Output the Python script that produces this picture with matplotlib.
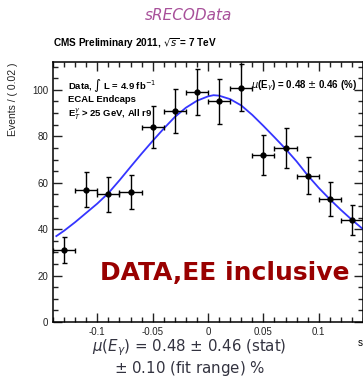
import numpy as np
import matplotlib
matplotlib.use('Agg')
import matplotlib.pyplot as plt
from matplotlib.ticker import MultipleLocator

plt.rcParams['font.family'] = ['Liberation Sans', 'DejaVu Sans']
plt.rcParams['mathtext.fontset'] = 'dejavusans'

# binned data (bin width 0.02)
bin_x = [-0.13, -0.11, -0.09, -0.07, -0.05, -0.03, -0.01, 0.01, 0.03, 0.05, 0.07, 0.09, 0.11, 0.13]
counts = [31, 57, 55, 56, 84, 91, 99, 95, 101, 72, 75, 63, 53, 44]
count_err = [5.6, 7.5, 7.4, 7.5, 9.2, 9.5, 10.0, 9.7, 10.0, 8.5, 8.7, 7.9, 7.3, 6.6]
bin_half = [0.01] * 14

# fitted curve
fit_x = [-0.137, -0.13, -0.12, -0.11, -0.10, -0.09, -0.08, -0.07, -0.06, -0.05, -0.04, -0.03,
         -0.02, -0.01, 0.0, 0.005, 0.01, 0.02, 0.03, 0.04, 0.05, 0.06, 0.07, 0.08, 0.09,
         0.10, 0.11, 0.12, 0.13, 0.14]
fit_y = [37.0, 39.3, 43.0, 47.0, 51.0, 55.5, 61.0, 66.8, 72.5, 78.0, 83.3, 88.3,
         92.3, 95.3, 97.2, 97.7, 97.5, 96.0, 93.3, 89.2, 84.5, 79.6, 74.6, 69.2, 63.2,
         57.8, 52.9, 48.3, 44.0, 40.0]

fig = plt.figure(figsize=(3.63, 3.85), dpi=100)
ax = fig.add_axes([53 / 363, 1 - 322 / 385, 310 / 363, 260 / 385])

ax.plot(fit_x, fit_y, color='#3535ff', lw=1.3, zorder=2)
ax.errorbar(bin_x, counts, yerr=count_err, xerr=bin_half, fmt='o', color='black',
            ms=3.5, elinewidth=1.0, capsize=1.8, capthick=1.0, zorder=3)

ax.set_xlim(-0.14, 0.14)
ax.set_ylim(0, 112)
ax.xaxis.set_minor_locator(MultipleLocator(0.01))
ax.yaxis.set_major_locator(MultipleLocator(20))
ax.yaxis.set_minor_locator(MultipleLocator(5))
ax.set_xticks([-0.1, -0.05, 0, 0.05, 0.1])
ax.set_xticklabels(['-0.1', '-0.05', '0', '0.05', '0.1'])
ax.tick_params(which='both', direction='in', top=True, right=True, labelsize=7, colors='#222222')
ax.tick_params(which='major', length=6.5, width=1.0)
ax.tick_params(which='minor', length=3.6, width=1.0)
for s in ax.spines.values():
    s.set_linewidth(1.1)

ax.set_ylabel('Events / ( 0.02 )', fontsize=7.5, color='#222222', loc='top', labelpad=10)

# texts
fig.text(0.52, 1 - 15 / 385, 'sRECOData', color='#a8509a', fontsize=11, style='italic',
         ha='center', va='center', family=['DejaVu Sans'])
fig.text(53 / 363, 1 - 44 / 385, r'CMS Preliminary 2011, $\sqrt{s}$ = 7 TeV', fontsize=7.2,
         weight='bold', ha='left', va='center')
ax.text(0.05, 0.91, r'Data, $\int$ L = 4.9 fb$^{-1}$', transform=ax.transAxes, fontsize=6.8,
        weight='bold', ha='left', va='center')
ax.text(0.05, 0.855, 'ECAL Endcaps', transform=ax.transAxes, fontsize=6.8,
        weight='bold', ha='left', va='center')
ax.text(0.05, 0.80, r'E$_T^\gamma$ > 25 GeV, All r9', transform=ax.transAxes, fontsize=6.8,
        weight='bold', ha='left', va='center')
ax.text(0.98, 0.91, r'$\mu$(E$_\gamma$) = 0.48 $\pm$ 0.46 (%)', transform=ax.transAxes,
        fontsize=7, weight='bold', ha='right', va='center')
fig.text(225 / 363, 1 - 273 / 385, 'DATA,EE inclusive', color='#990000', fontsize=18,
         weight='bold', ha='center', va='center', family=['DejaVu Sans'])
fig.text(358 / 363, 1 - 343 / 385, 's', fontsize=7, ha='left', va='center')
fig.text(189 / 363, 1 - 348 / 385, r'$\mu(E_\gamma)$ = 0.48 $\pm$ 0.46 (stat)',
         fontsize=10.8, color='#333340', ha='center', va='center', family=['DejaVu Sans'])
fig.text(190 / 363, 1 - 368 / 385, r'$\pm$ 0.10 (fit range) %',
         fontsize=10.8, color='#333340', ha='center', va='center', family=['DejaVu Sans'])

fig.savefig('out.png', dpi=100)
